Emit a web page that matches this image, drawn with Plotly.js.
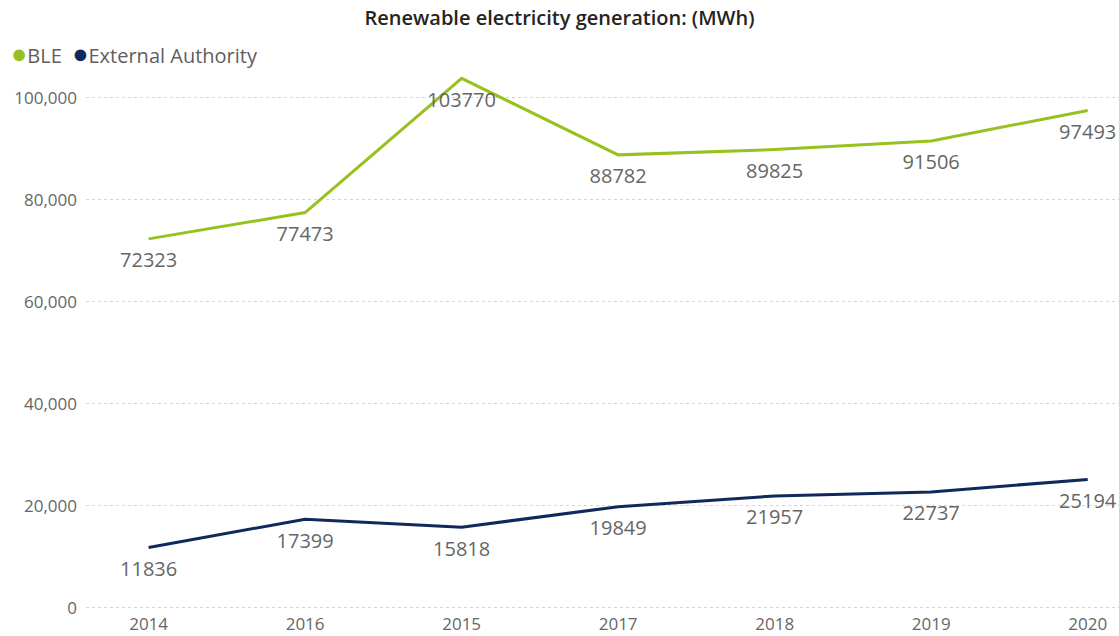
<!DOCTYPE html>
<html>
<head>
<meta charset="utf-8">
<script src="https://cdn.plot.ly/plotly-3.0.1.min.js"></script>
<style>html,body{margin:0;padding:0;background:#fff;}#chart{width:1119px;height:636px;}</style>
</head>
<body>
<div id="chart"></div>
<script>
const years = ["2014", "2016", "2015", "2017", "2018", "2019", "2020"];
const bleValues = [72323, 77473, 103770, 88782, 89825, 91506, 97493];
const externalValues = [11836, 17399, 15818, 19849, 21957, 22737, 25194];
const seriesNames = ["BLE", "External Authority"];
const colors = ["#97C11F", "#0F2A5A"];

const font = "'Segoe UI', 'Open Sans', 'Noto Sans', sans-serif";

function lineTrace(vals, name, color) {
  return {
    x: years, y: vals, name: name, type: 'scatter', mode: 'lines+markers+text',
    text: vals.map(v => String(v)), textposition: 'bottom center',
    textfont: {size: 20, color: '#666666', family: font},
    marker: {size: 20, opacity: 0, color: color},
    line: {color: color, width: 3}, showlegend: false, cliponaxis: false,
    hoverinfo: 'x+y'
  };
}

const data = [
  lineTrace(bleValues, seriesNames[0], colors[0]),
  lineTrace(externalValues, seriesNames[1], colors[1])
];

const legendText = seriesNames.map((n, i) =>
  "<span style='color:" + colors[i] + ";font-size:27px'>●</span>" + n).join("  ");

const layout = {
  width: 1119, height: 636,
  margin: {l: 86, r: 0, t: 67, b: 26},
  paper_bgcolor: '#fff', plot_bgcolor: '#fff',
  font: {family: font, color: '#666666'},
  title: {text: 'Renewable electricity generation: (MWh)', x: 0.5, xanchor: 'center', y: 0.972, yanchor: 'middle',
    font: {size: 20, color: '#252423', family: font, weight: 600}},
  showlegend: false,
  annotations: [{
    text: legendText, xref: 'paper', yref: 'paper', x: -86/1033, xanchor: 'left',
    y: (610 - 55) / 543, yanchor: 'middle', showarrow: false,
    font: {size: 20, color: '#605E5C', family: font}, xshift: 9, yshift: 3
  }],
  xaxis: {type: 'category', range: [-0.4, 6.2], showgrid: false, zeroline: false, showline: false,
    ticks: '', ticklabelstandoff: 2, tickfont: {size: 17, color: '#666666'}, fixedrange: true},
  yaxis: {range: [-400, 106000], tickvals: [0, 20000, 40000, 60000, 80000, 100000],
    ticktext: ['0', '20,000', '40,000', '60,000', '80,000', '100,000'],
    showgrid: true, gridcolor: '#d6d6d6', griddash: 'dot', gridwidth: 1, zeroline: false,
    ticks: '', ticklabelstandoff: 8, tickfont: {size: 17, color: '#666666'}, fixedrange: true}
};

Plotly.newPlot('chart', data, layout, {displayModeBar: false, staticPlot: true});
</script>
</body>
</html>
